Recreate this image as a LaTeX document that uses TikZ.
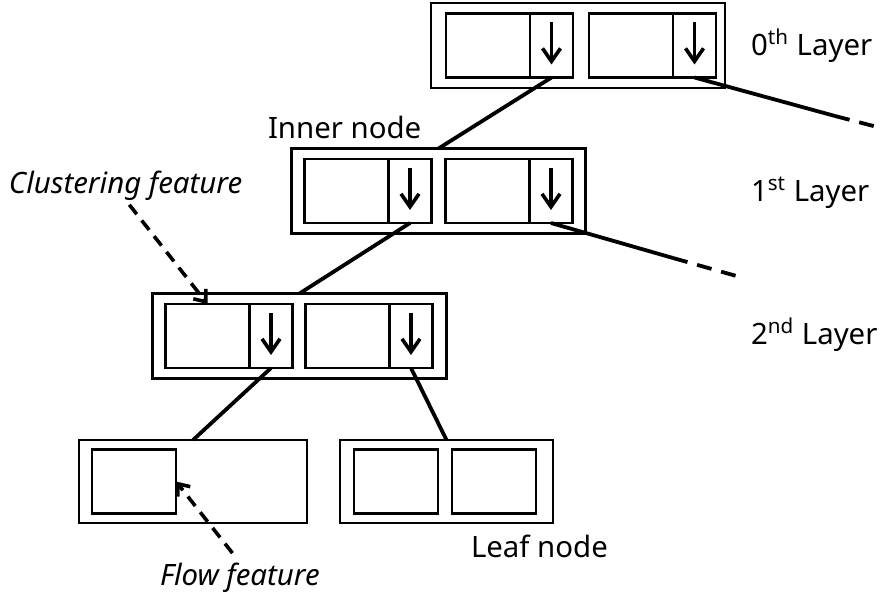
\documentclass[tikz,border=0pt]{standalone}
\usepackage{fontspec}
\setmainfont{Noto Sans}
\usetikzlibrary{positioning,arrows.meta}
\tikzset{x=0.5pt, y=-0.5pt,
    every node/.style={inner sep=0pt, outer sep=0pt},
    nodebox/.style={draw, line width=1.3pt, minimum width=147pt, minimum height=42.5pt},
    cellbox/.style={draw, line width=1.3pt, minimum width=42pt, minimum height=32pt},
    ptrbox/.style={draw, line width=1.3pt, minimum width=21.5pt, minimum height=32pt},
    ptr/.style={line width=1.8pt, -{Straight Barb[length=6.5pt,width=9pt]}},
    link/.style={line width=1.9pt},
    moreline/.style={line width=1.9pt, dash pattern=on 7.5pt off 5pt},
    note/.style={line width=1.8pt, dash pattern=on 6pt off 4pt, -{Straight Barb[length=5pt,width=8pt]}},
    layertext/.style={font=\fontsize{14.7}{17}\selectfont},
    }

\begin{document}
\begin{tikzpicture}
\useasboundingbox (0,0) rectangle (881,599);

% 0th layer
\node[nodebox] (l0) at (578,45.5) {};
\node[cellbox, right=7.5pt of l0.west] (k0a) {};
\node[ptrbox, right=0pt of k0a] (p0a) {};
\node[cellbox, right=8pt of p0a] (k0b) {};
\node[ptrbox, right=0pt of k0b] (p0b) {};

% 1st layer
\node[nodebox] (l1) at (438.5,191) {};
\node[cellbox, right=6.5pt of l1.west] (k1a) {};
\node[ptrbox, right=0pt of k1a] (p1a) {};
\node[cellbox, right=7pt of p1a] (k1b) {};
\node[ptrbox, right=0pt of k1b] (p1b) {};

% 2nd layer
\node[nodebox] (l2) at (299.5,336) {};
\node[cellbox, right=6.5pt of l2.west] (k2a) {};
\node[ptrbox, right=0pt of k2a] (p2a) {};
\node[cellbox, right=6.5pt of p2a] (k2b) {};
\node[ptrbox, right=0pt of k2b] (p2b) {};

% leaves
\node[nodebox, minimum width=114pt, minimum height=41.5pt] (f1) at (193,481.5) {};
\node[cellbox, right=6.5pt of f1.west] (c1) {};
\node[nodebox, minimum width=106.5pt, minimum height=41.5pt] (f2) at (446.5,481.5) {};
\node[cellbox, right=7pt of f2.west] (c2) {};
\node[cellbox, right=7pt of c2] (c3) {};

% child pointers
\draw[ptr] ([yshift=-4.5pt]p0a.north) -- ([yshift=6.5pt]p0a.south);
\draw[ptr] ([yshift=-4.5pt]p0b.north) -- ([yshift=6.5pt]p0b.south);
\draw[ptr] ([yshift=-4.5pt]p1a.north) -- ([yshift=6.5pt]p1a.south);
\draw[ptr] ([yshift=-4.5pt]p1b.north) -- ([yshift=6.5pt]p1b.south);
\draw[ptr] ([yshift=-4.5pt]p2a.north) -- ([yshift=6.5pt]p2a.south);
\draw[ptr] ([yshift=-4.5pt]p2b.north) -- ([yshift=6.5pt]p2b.south);

\draw[link] (p0a.south) -- (l1.north);
\draw[link] (p1a.south) -- (l2.north);
\draw[link] (p2a.south) -- (f1.north);
\draw[link] (p2b.south) -- (f2.north);

% subtrees going off to the right
\coordinate (m0) at (835,116);
\coordinate (e0) at (881,128);
\draw[link] (p0b.south) -- (m0);
\draw[moreline] (m0) -- (e0);
\coordinate (m1) at (673,258);
\coordinate (e1) at (740,277);
\draw[link] (p1b.south) -- (m1);
\draw[moreline] (m1) -- (e1);

% texts
\node[layertext, anchor=base west] (t0) at (751,55) {0\textsuperscript{th} Layer};
\node[layertext, anchor=base west] (t1) at (751,201) {1\textsuperscript{st} Layer};
\node[layertext, anchor=base west] (t2) at (751,344) {2\textsuperscript{nd} Layer};
\node[layertext, anchor=base west] (inner) at (268,138) {Inner node};
\node[layertext, anchor=base west] (leaf) at (471,557) {Leaf node};
\node[layertext, anchor=base west, font=\fontsize{14.7}{17}\selectfont\itshape] (cf) at (9,193) {Clustering feature};
\node[layertext, anchor=base west, font=\fontsize{14.7}{17}\selectfont\itshape] (ff) at (160,585) {Flow feature};

\draw[note, shorten <=3pt] (cf.south) -- (k2a.north);
\draw[note, shorten <=6pt] (ff.north) -- (c1.east);
\end{tikzpicture}
\end{document}
